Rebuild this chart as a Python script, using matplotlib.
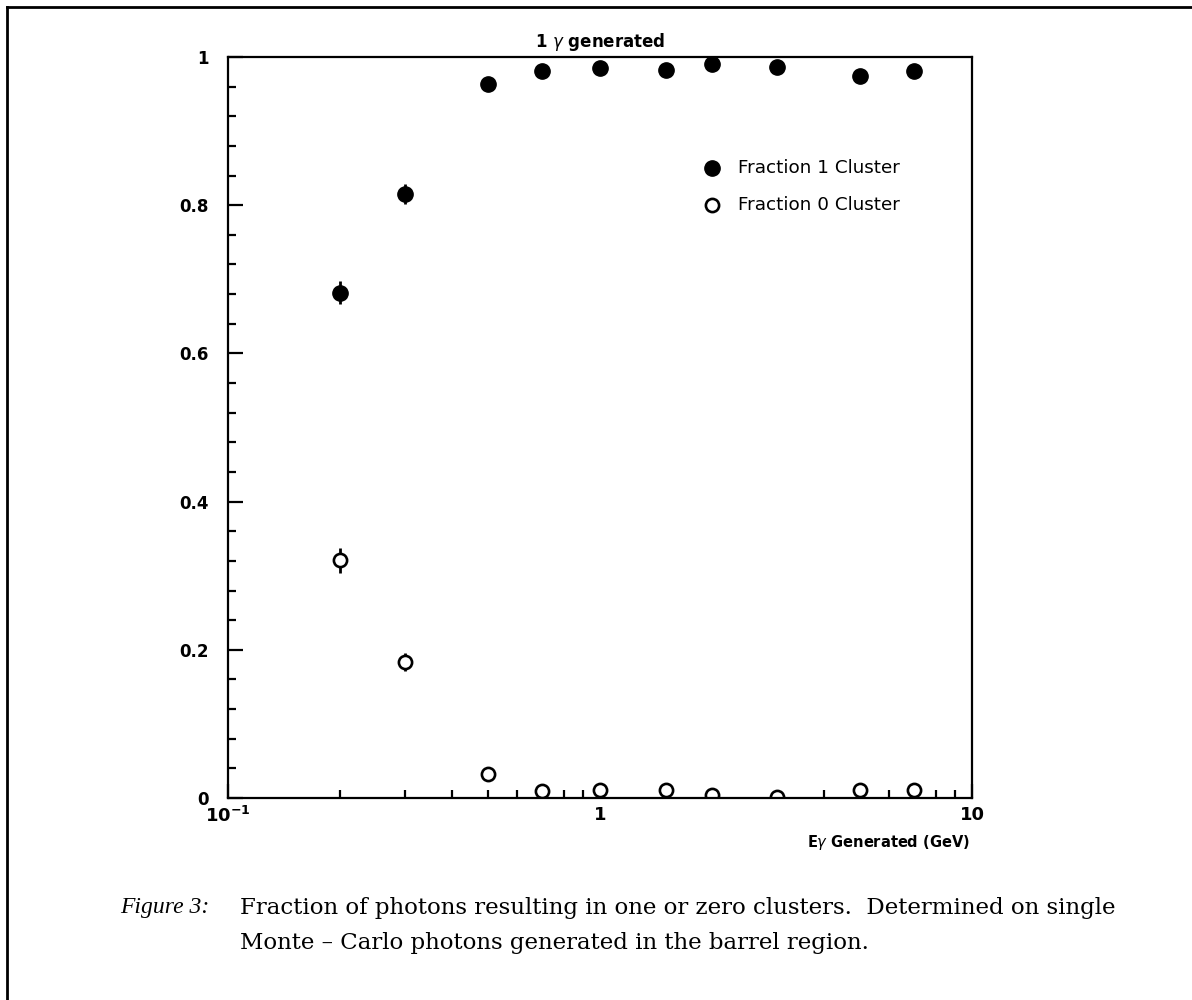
import matplotlib.pyplot as plt
import matplotlib.ticker as mticker
import numpy as np

# Photon energies (GeV)
energy = [0.2, 0.3, 0.5, 0.7, 1.0, 1.5, 2.0, 3.0, 5.0, 7.0]

# Fraction of photons giving exactly one cluster
frac_one = [0.682, 0.815, 0.964, 0.981, 0.985, 0.983, 0.990, 0.987, 0.975, 0.981]
err_one = [0.016, 0.014, 0.005, 0.004, 0.004, 0.004, 0.004, 0.004, 0.004, 0.004]

# Fraction of photons giving zero clusters
frac_zero = [0.321, 0.184, 0.032, 0.009, 0.011, 0.011, 0.004, 0.002, 0.011, 0.011]
err_zero = [0.017, 0.012, 0.005, 0.005, 0.008, 0.005, 0.005, 0.005, 0.005, 0.006]

fig = plt.figure(figsize=(11.92, 10), dpi=100)
fig.patch.set_facecolor('white')

W, H = 1192, 1000
ax = fig.add_axes([228 / W, (H - 798) / H, 744 / W, 741 / H])

# error bars first, markers on top
ax.errorbar(energy, frac_one, yerr=err_one, fmt='none', ecolor='black', elinewidth=2, capsize=0)
ax.errorbar(energy, frac_zero, yerr=err_zero, fmt='none', ecolor='black', elinewidth=2, capsize=0)
ax.plot(energy, frac_one, 'o', color='black', markersize=11, linestyle='none')
ax.plot(energy, frac_zero, 'o', markerfacecolor='white', markeredgecolor='black',
        markeredgewidth=1.9, markersize=9.5, linestyle='none')

ax.set_xscale('log')
ax.set_xlim(0.1, 10)
ax.set_ylim(0, 1)

for s in ax.spines.values():
    s.set_linewidth(1.6)

# y axis ticks
ax.yaxis.set_major_locator(mticker.FixedLocator([0, 0.2, 0.4, 0.6, 0.8, 1.0]))
ax.yaxis.set_minor_locator(mticker.MultipleLocator(0.04))
ax.yaxis.set_major_formatter(mticker.FuncFormatter(lambda v, p: '%g' % v))
ax.tick_params(axis='y', which='major', direction='in', length=11, width=1.6,
               left=True, right=False, labelsize=12, pad=14)
ax.tick_params(axis='y', which='minor', direction='in', length=6, width=1.6,
               left=True, right=False)

# x axis ticks
ax.xaxis.set_major_locator(mticker.FixedLocator([0.1, 1, 10]))
ax.xaxis.set_minor_locator(mticker.LogLocator(base=10, subs=np.arange(2, 10)))
ax.xaxis.set_minor_formatter(mticker.NullFormatter())
ax.set_xticklabels([r'$\mathregular{10^{-1}}$', '1', '10'])
ax.tick_params(axis='x', which='major', direction='in', length=10, width=1.6,
               bottom=True, top=False, labelsize=13, pad=6)
ax.tick_params(axis='x', which='minor', direction='in', length=6, width=1.6,
               bottom=True, top=False)
for lab in ax.get_xticklabels() + ax.get_yticklabels():
    lab.set_fontweight('bold')

ax.set_title('1 $\\gamma$ generated', fontsize=12, fontweight='bold', pad=7)

fig.text(970 / W, 1 - 843 / H, 'E$\\gamma$ Generated (GeV)', ha='right', va='center',
         fontsize=10.5, fontweight='bold')

# legend drawn by hand, like the original
lx = (712 - 228) / 744
ax.plot([lx], [(798 - 168) / 741], 'o', color='black', markersize=11, transform=ax.transAxes)
ax.plot([lx], [(798 - 205) / 741], 'o', markerfacecolor='white', markeredgecolor='black',
        markeredgewidth=1.9, markersize=9.5, transform=ax.transAxes)
tx = (738 - 228) / 744
ax.text(tx, (798 - 168) / 741, 'Fraction 1 Cluster', transform=ax.transAxes,
        fontsize=13.2, va='center', ha='left')
ax.text(tx, (798 - 205) / 741, 'Fraction 0 Cluster', transform=ax.transAxes,
        fontsize=13.2, va='center', ha='left')

# caption
fig.text(120 / W, 1 - 908 / H, 'Figure 3:', fontsize=17, family='Liberation Serif',
         style='italic', va='center', ha='left')
fig.text(240 / W, 1 - 908 / H,
         'Fraction of photons resulting in one or zero clusters.  Determined on single',
         fontsize=16.5, family='DejaVu Serif', va='center', ha='left')
fig.text(240 / W, 1 - 943 / H, 'Monte \u2013 Carlo photons generated in the barrel region.',
         fontsize=16.5, family='DejaVu Serif', va='center', ha='left')

# page frame (top and left edges)
fig.add_artist(plt.Line2D([7 / W, 7 / W], [0, 1 - 7 / H], color='black', linewidth=2,
                          transform=fig.transFigure))
fig.add_artist(plt.Line2D([7 / W, 1], [1 - 7 / H, 1 - 7 / H], color='black', linewidth=2,
                          transform=fig.transFigure))

fig.savefig('out.png', dpi=100, facecolor='white')
